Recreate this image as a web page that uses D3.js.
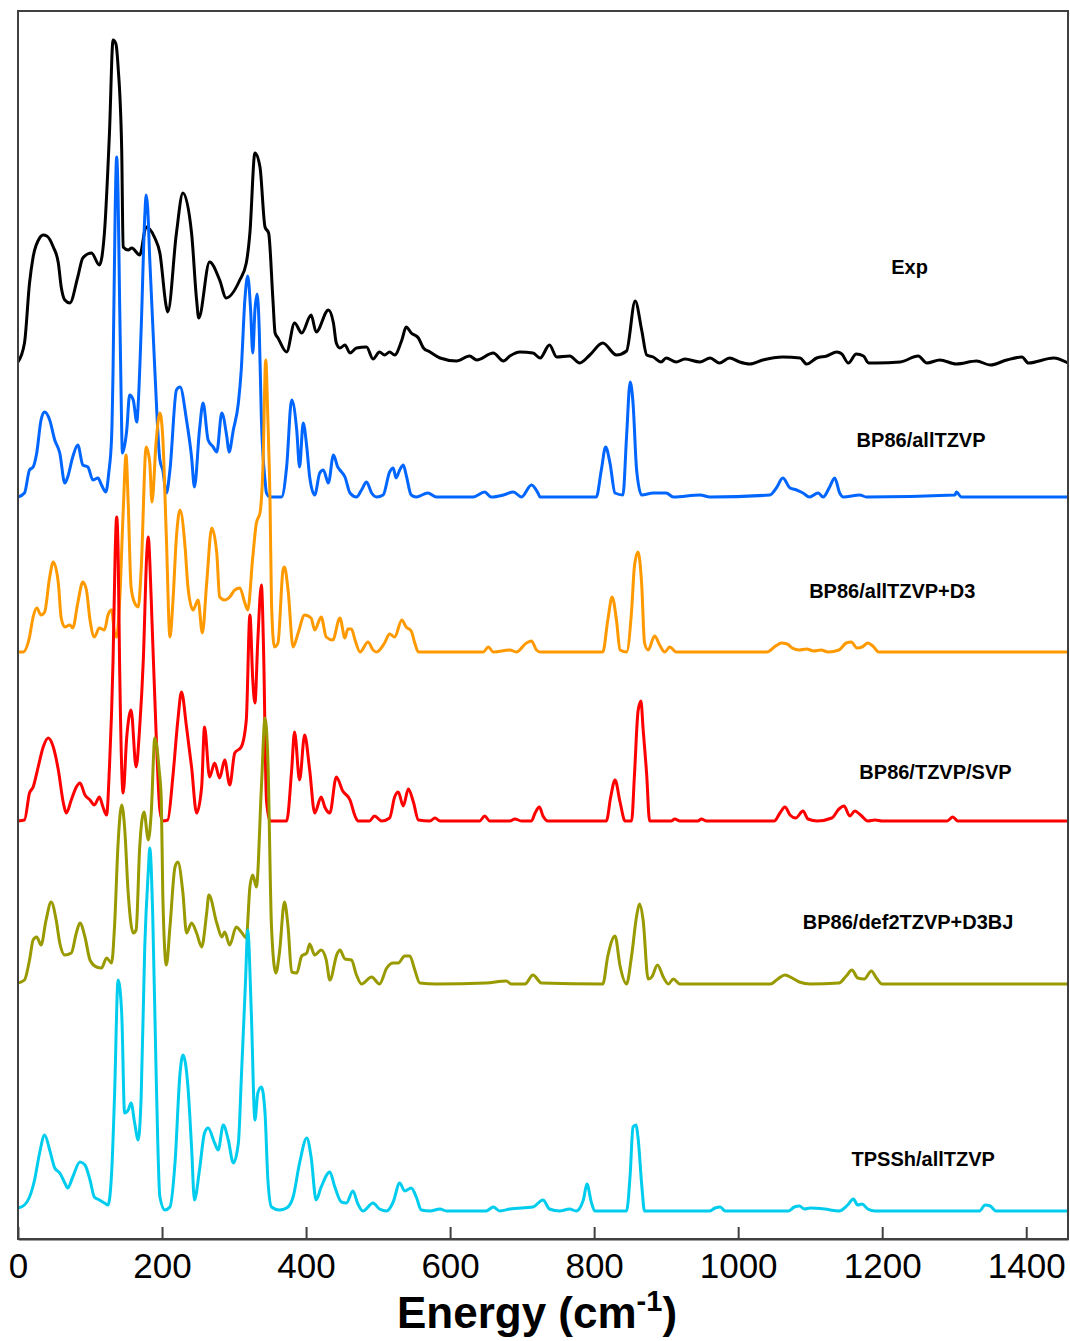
<!DOCTYPE html>
<html>
<head>
<meta charset="utf-8">
<script src="https://cdn.jsdelivr.net/npm/d3@7"></script>
<style>
  html, body { margin: 0; padding: 0; background: #fff; }
  svg { display: block; }
</style>
</head>
<body>
<svg id="chart" width="1070" height="1341"></svg>
<script>
// Vibrational spectra: experiment vs. computed (energy in cm^-1, intensity in arbitrary units).
// Each trace is a list of [energy, intensity] samples; intensity is relative to its own baseline.

const seriesNames = ["Exp", "BP86/allTZVP", "BP86/allTZVP+D3", "BP86/TZVP/SVP", "BP86/def2TZVP+D3BJ", "TPSSh/allTZVP"];
const seriesColors = ["#000000", "#0066FF", "#FF9900", "#FF0000", "#999900", "#00CCEE"];
// vertical offset of each trace (same arbitrary units as intensity)
const seriesOffsets = [877, 742, 587, 418, 255, 28];
const xTicks = [0, 200, 400, 600, 800, 1000, 1200, 1400];

const expData = [[0,0],[9,19],[16,79],[21,105],[30,124],[35,127],[40,126],[49,115],[56,99],[60,75],[65,62],[72,59],[83,85],[90,104],[102,109],[113,97],[120,129],[127,229],[132,322],[136,318],[139,295],[144,212],[146,115],[153,112],[158,114],[169,107],[178,135],[190,124],[197,109],[206,55],[208,50],[220,129],[229,169],[241,129],[248,62],[251,44],[266,100],[280,82],[289,64],[308,82],[317,99],[322,129],[329,209],[336,195],[343,135],[348,129],[354,62],[357,29],[361,24],[373,10],[384,39],[394,29],[407,47],[414,30],[431,52],[438,39],[442,19],[447,14],[454,17],[461,9],[470,14],[484,15],[493,3],[502,10],[509,7],[516,10],[523,7],[533,22],[539,35],[546,29],[556,24],[563,14],[572,10],[586,4],[609,1],[627,6],[637,2],[660,9],[674,1],[683,6],[697,10],[715,9],[725,4],[738,17],[748,5],[766,6],[780,-1],[794,7],[812,19],[831,7],[845,11],[857,61],[866,32],[873,7],[882,5],[893,0],[900,4],[914,0],[926,3],[947,0],[961,4],[974,-1],[988,4],[1002,0],[1016,-2],[1034,2],[1062,5],[1086,4],[1095,-2],[1109,4],[1123,6],[1137,10],[1144,8],[1153,-1],[1164,8],[1174,6],[1181,-1],[1192,-1],[1225,0],[1250,6],[1262,-1],[1280,2],[1303,-2],[1331,1],[1350,-3],[1373,2],[1394,5],[1403,-1],[1438,4],[1458,-1]];

const bp86AllData = [[0,0],[9,4],[16,27],[21,30],[26,44],[32,77],[37,85],[44,77],[51,57],[58,44],[65,14],[69,20],[76,40],[83,52],[90,32],[97,30],[104,17],[111,19],[116,12],[122,5],[126,24],[130,60],[132,127],[135,290],[137,340],[139,300],[141,200],[143,110],[145,44],[151,67],[155,102],[160,97],[165,75],[167,94],[171,167],[176,280],[178,302],[180,290],[183,237],[190,127],[197,37],[201,27],[206,4],[211,27],[220,107],[225,110],[234,77],[241,40],[245,10],[252,67],[257,94],[264,57],[271,50],[276,45],[283,84],[290,60],[293,45],[299,67],[306,94],[310,127],[315,197],[319,221],[323,187],[326,144],[329,187],[332,203],[335,167],[338,77],[343,17],[345,4],[350,0],[366,0],[373,30],[380,97],[387,67],[391,30],[396,74],[401,50],[405,20],[412,2],[419,24],[424,27],[431,14],[438,42],[444,30],[447,27],[454,20],[461,4],[470,0],[477,7],[484,15],[491,4],[498,0],[507,2],[516,25],[521,29],[525,19],[530,27],[535,32],[539,22],[546,2],[553,0],[569,4],[581,0],[632,0],[648,5],[657,0],[674,2],[688,5],[699,0],[713,12],[722,4],[725,0],[803,0],[810,27],[816,50],[822,34],[829,4],[840,2],[845,60],[850,115],[854,94],[859,27],[866,2],[882,4],[900,4],[910,0],[947,2],[961,0],[1044,2],[1053,9],[1062,19],[1072,9],[1081,7],[1090,4],[1099,0],[1111,4],[1118,0],[1127,10],[1134,19],[1141,4],[1146,0],[1169,2],[1178,0],[1301,2],[1303,5],[1310,0],[1458,0]];

const bp86AllD3Data = [[0,0],[7,0],[16,15],[21,35],[26,44],[32,37],[37,40],[44,75],[49,90],[56,69],[60,34],[65,25],[72,27],[76,24],[83,49],[90,70],[95,62],[100,32],[106,15],[113,24],[120,22],[125,37],[130,42],[134,19],[137,15],[141,49],[146,139],[150,197],[153,149],[157,65],[162,49],[167,45],[171,82],[178,205],[183,189],[186,150],[192,212],[197,239],[201,215],[206,115],[211,15],[215,49],[220,115],[225,142],[232,105],[236,65],[243,42],[250,52],[256,19],[262,69],[269,124],[276,99],[280,55],[287,52],[294,55],[301,62],[308,64],[315,49],[319,42],[326,95],[331,129],[336,139],[340,182],[344,292],[347,232],[350,149],[352,49],[356,5],[361,9],[368,82],[370,85],[375,62],[382,5],[389,19],[398,37],[407,34],[412,22],[421,35],[428,15],[437,12],[447,34],[454,14],[458,23],[463,23],[468,12],[475,0],[486,10],[493,2],[498,0],[509,9],[516,18],[523,15],[533,32],[539,25],[546,21],[551,9],[556,0],[646,0],[653,5],[660,0],[683,2],[692,0],[706,9],[713,11],[720,2],[725,0],[812,0],[819,32],[825,55],[831,32],[836,2],[845,0],[852,41],[856,86],[861,100],[866,68],[870,9],[875,2],[884,16],[891,7],[898,0],[905,5],[914,0],[1040,0],[1052,6],[1060,9],[1068,8],[1075,4],[1085,2],[1095,3],[1105,1],[1115,2],[1125,0],[1140,2],[1150,9],[1157,10],[1165,4],[1172,5],[1180,9],[1187,6],[1195,0],[1458,0]];

const bp86TzvpData = [[0,0],[9,1],[16,28],[21,34],[28,54],[35,74],[42,83],[49,74],[56,51],[63,18],[67,8],[74,21],[81,34],[86,38],[93,26],[100,21],[106,16],[113,24],[118,14],[123,6],[127,54],[132,161],[135,270],[137,304],[139,270],[141,161],[146,28],[151,84],[157,111],[164,54],[169,94],[174,161],[179,270],[181,284],[183,260],[186,201],[192,84],[197,11],[201,0],[208,1],[215,44],[222,101],[227,129],[234,94],[241,54],[248,8],[255,34],[259,94],[266,44],[273,58],[280,43],[287,61],[294,36],[301,68],[310,74],[317,101],[322,206],[326,141],[329,118],[333,181],[338,236],[341,171],[345,21],[350,0],[373,0],[380,51],[384,89],[391,41],[398,86],[405,51],[412,8],[421,24],[426,14],[433,8],[442,44],[451,30],[461,21],[468,5],[472,0],[488,0],[495,5],[505,0],[516,3],[523,24],[528,29],[535,15],[542,32],[549,19],[556,1],[572,0],[579,3],[586,0],[641,0],[648,5],[655,0],[683,0],[690,2],[699,0],[713,0],[718,8],[724,14],[729,5],[736,0],[817,0],[823,24],[829,41],[836,19],[843,0],[852,0],[856,46],[861,110],[865,120],[868,92],[873,46],[877,0],[907,0],[912,2],[919,0],[944,0],[949,2],[956,0],[1050,0],[1058,8],[1065,14],[1072,6],[1080,3],[1090,10],[1097,2],[1110,0],[1130,3],[1140,12],[1147,15],[1155,5],[1162,10],[1170,6],[1180,0],[1190,1],[1200,0],[1290,0],[1298,4],[1305,0],[1458,0]];

const bp86Def2Data = [[0,1],[9,4],[16,24],[21,44],[26,47],[32,39],[39,64],[46,82],[53,64],[58,41],[65,29],[74,31],[81,51],[86,61],[93,47],[100,24],[109,17],[116,16],[123,26],[130,21],[134,57],[139,141],[144,179],[148,157],[153,91],[160,51],[164,54],[169,137],[175,172],[181,144],[185,171],[190,246],[196,214],[199,184],[201,91],[206,19],[211,57],[218,117],[222,122],[229,91],[234,51],[241,61],[248,51],[255,37],[262,71],[265,89],[276,61],[283,47],[287,52],[294,39],[303,57],[310,52],[317,46],[322,97],[326,109],[331,97],[338,197],[343,266],[347,224],[352,57],[358,11],[363,31],[370,82],[375,57],[380,12],[387,11],[394,28],[401,31],[405,40],[412,29],[421,34],[428,24],[433,4],[443,30],[447,34],[454,25],[463,24],[470,9],[477,0],[491,7],[502,0],[512,16],[521,21],[528,21],[537,28],[544,28],[551,14],[558,1],[581,0],[650,1],[678,3],[685,0],[704,0],[715,9],[727,1],[812,0],[819,28],[829,48],[836,18],[845,0],[852,28],[859,68],[863,80],[868,64],[875,5],[880,7],[888,19],[896,7],[903,0],[910,5],[919,0],[1045,0],[1055,5],[1065,9],[1075,6],[1085,2],[1100,0],[1140,1],[1150,8],[1158,14],[1166,6],[1175,5],[1185,13],[1192,6],[1200,0],[1458,0]];

const tpsshData = [[0,3],[9,6],[16,14],[23,31],[30,58],[37,76],[44,61],[51,43],[58,38],[65,28],[69,23],[76,34],[86,49],[93,46],[100,31],[106,14],[113,11],[120,8],[125,6],[130,38],[134,114],[139,231],[144,198],[148,98],[153,101],[157,108],[162,88],[167,71],[171,114],[176,264],[181,341],[183,363],[187,298],[192,131],[197,14],[204,1],[211,4],[218,48],[225,138],[229,156],[236,124],[241,64],[245,11],[252,41],[259,78],[264,83],[273,68],[278,61],[285,86],[292,71],[299,48],[306,68],[310,131],[316,231],[319,281],[324,198],[329,91],[333,118],[338,124],[343,98],[347,31],[352,4],[363,1],[373,3],[382,14],[391,48],[401,73],[407,54],[414,11],[421,24],[433,39],[440,24],[449,9],[456,8],[465,20],[472,7],[479,0],[493,8],[502,2],[512,0],[521,9],[530,28],[537,20],[546,23],[553,14],[560,1],[572,0],[586,2],[595,0],[650,0],[660,4],[669,0],[683,2],[715,4],[729,11],[738,2],[752,0],[766,2],[775,0],[785,11],[790,27],[796,9],[801,0],[845,0],[850,36],[854,84],[858,86],[861,73],[866,27],[870,0],[960,0],[968,3],[975,4],[982,0],[1070,0],[1078,4],[1085,5],[1092,2],[1100,3],[1120,2],[1140,0],[1152,6],[1160,12],[1166,6],[1172,7],[1180,2],[1190,0],[1335,0],[1343,6],[1350,5],[1358,0],[1458,0]];

const seriesData = [expData, bp86AllData, bp86AllD3Data, bp86TzvpData, bp86Def2Data, tpsshData];

// label anchor per trace (centre): [energy, intensity above the trace offset]
const labelPos = [[1238, 88], [1254, 50], [1214, 54], [1274, 42], [1236, 55], [1257, 45]];

const svg = d3.select("#chart");
const margin = { left: 18, top: 11, right: 2, bottom: 102 };
const W = 1070, H = 1341;
const plotW = W - margin.left - margin.right;
const plotH = H - margin.top - margin.bottom;

const x = d3.scaleLinear().domain([0, 1458]).range([margin.left, margin.left + plotW]);
const y = d3.scaleLinear().domain([0, plotH]).range([margin.top + plotH, margin.top]);

const font = "'Liberation Sans', Arial, Helvetica, sans-serif";

const line = d3.line()
  .x(d => x(d[0]))
  .y(d => y(d[1]))
  .curve(d3.curveMonotoneX);

const g = svg.append("g");

seriesData.forEach((data, i) => {
  const off = seriesOffsets[i];
  g.append("path")
    .datum(data.map(d => [d[0], d[1] + off]))
    .attr("fill", "none")
    .attr("stroke", seriesColors[i])
    .attr("stroke-width", 3)
    .attr("stroke-linejoin", "round")
    .attr("d", line);
});

// trace labels
seriesNames.forEach((name, i) => {
  const p = labelPos[i];
  svg.append("text")
    .attr("x", x(p[0]))
    .attr("y", y(seriesOffsets[i] + p[1]))
    .attr("text-anchor", "middle")
    .attr("font-family", font)
    .attr("font-weight", "bold")
    .attr("font-size", 20)
    .attr("fill", "#000")
    .text(name);
});

// frame
svg.append("rect")
  .attr("x", margin.left)
  .attr("y", margin.top)
  .attr("width", plotW)
  .attr("height", plotH)
  .attr("fill", "none")
  .attr("stroke", "#404040")
  .attr("stroke-width", 2);

// bottom axis with inward ticks
const axis = d3.axisBottom(x)
  .tickValues(xTicks)
  .tickFormat(d3.format("d"))
  .tickSizeInner(-12)
  .tickSizeOuter(0)
  .tickPadding(14);

const ax = svg.append("g")
  .attr("transform", `translate(0,${margin.top + plotH})`)
  .call(axis);
ax.select(".domain").attr("stroke", "#404040").attr("stroke-width", 2);
ax.selectAll(".tick line").attr("stroke", "#404040").attr("stroke-width", 2);
ax.selectAll(".tick text")
  .attr("font-family", font)
  .attr("font-size", 35)
  .attr("fill", "#000");

// axis title
const title = svg.append("text")
  .attr("x", 537)
  .attr("y", 1328)
  .attr("text-anchor", "middle")
  .attr("font-family", font)
  .attr("font-weight", "bold")
  .attr("font-size", 44)
  .attr("fill", "#000");
title.append("tspan").text("Energy (cm");
title.append("tspan").attr("font-size", 29).attr("dy", -17).text("-1");
title.append("tspan").attr("dy", 17).text(")");
</script>
</body>
</html>
